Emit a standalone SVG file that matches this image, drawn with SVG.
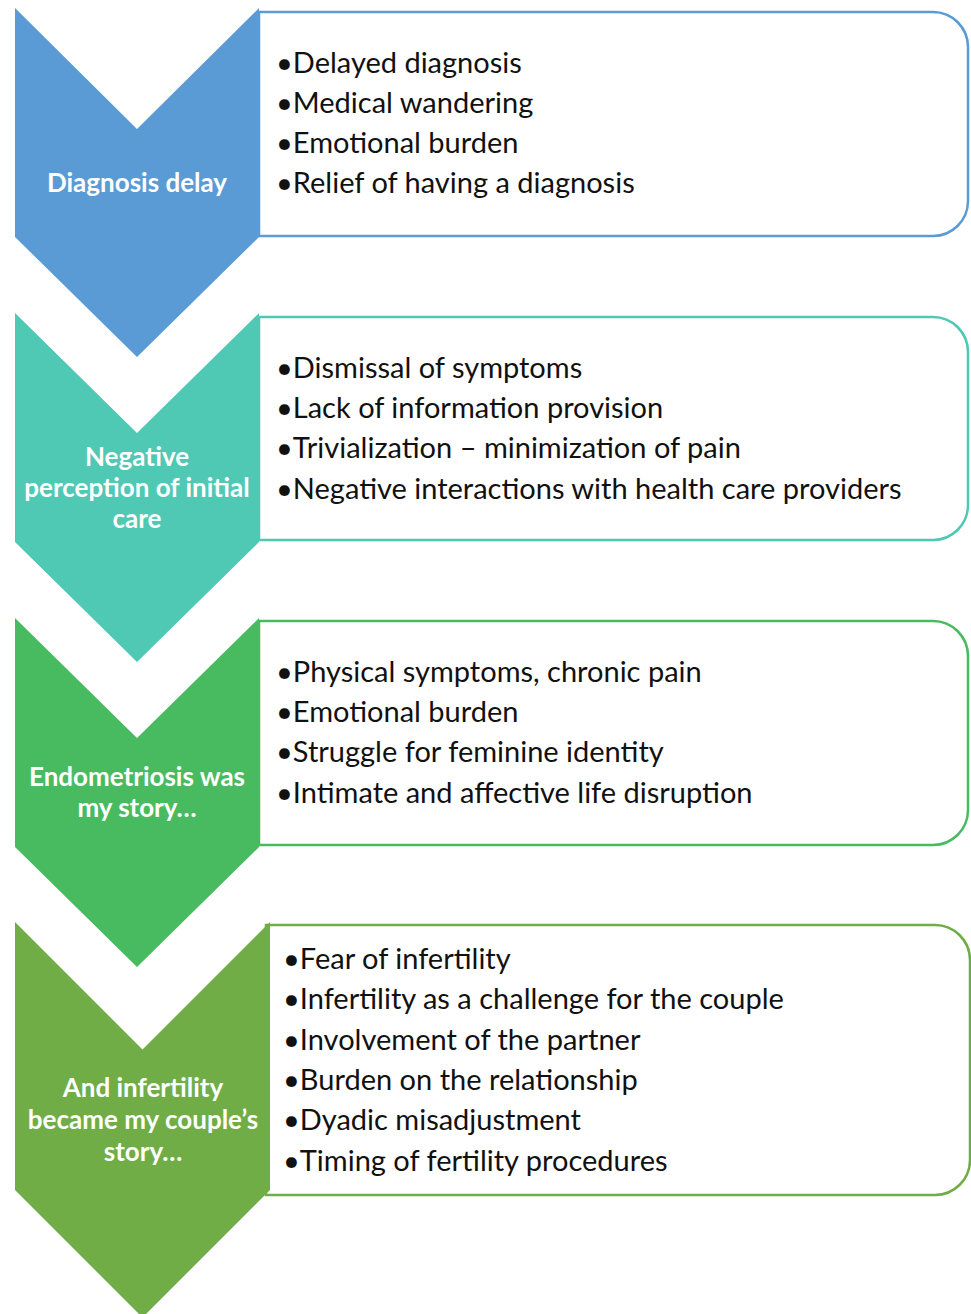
<svg xmlns="http://www.w3.org/2000/svg" width="971" height="1314" viewBox="0 0 971 1314">
<style>
.box{fill:#fff;stroke-width:2.5}
.item{font-family:Lato,"Liberation Sans",sans-serif;font-size:29px;fill:#111}
.lbl{font-family:Lato,"Liberation Sans",sans-serif;font-size:26px;font-weight:bold;fill:#fff;text-anchor:middle}
</style>
<rect width="971" height="1314" fill="#fff"/>
<g id="connectors"></g>
<g id="stage1">
<path class="box" stroke="#5b9bd5" d="M259,12 H933 A35,35 0 0 1 968,47 V201 A35,35 0 0 1 933,236 H259 Z"/>
<path fill="#5b9bd5" d="M15,8 L137,129 L259,8 V237 L137,357 L15,237 Z"/>
<text class="lbl" x="137" y="192">Diagnosis delay</text>
<text class="item" x="276" y="73">•Delayed diagnosis</text>
<text class="item" x="276" y="113">•Medical wandering</text>
<text class="item" x="276" y="153">•Emotional burden</text>
<text class="item" x="276" y="193">•Relief of having a diagnosis</text>
</g>
<g id="stage2">
<path class="box" stroke="#4fc8b4" d="M259,317 H933 A35,35 0 0 1 968,352 V505 A35,35 0 0 1 933,540 H259 Z"/>
<path fill="#4fc8b4" d="M15,313 L137,433 L259,313 V542 L137,662 L15,542 Z"/>
<text class="lbl" x="137" y="466">Negative</text>
<text class="lbl" x="137" y="497">perception of initial</text>
<text class="lbl" x="137" y="528">care</text>
<text class="item" x="276" y="378">•Dismissal of symptoms</text>
<text class="item" x="276" y="418">•Lack of information provision</text>
<text class="item" x="276" y="458">•Trivialization – minimization of pain</text>
<text class="item" x="276" y="499">•Negative interactions with health care providers</text>
</g>
<g id="stage3">
<path class="box" stroke="#48bb61" d="M259,621 H933 A35,35 0 0 1 968,656 V810 A35,35 0 0 1 933,845 H259 Z"/>
<path fill="#48bb61" d="M15,618 L137,738 L259,618 V847 L137,967 L15,847 Z"/>
<text class="lbl" x="137" y="786">Endometriosis was</text>
<text class="lbl" x="137" y="817">my story…</text>
<text class="item" x="276" y="682">•Physical symptoms, chronic pain</text>
<text class="item" x="276" y="722">•Emotional burden</text>
<text class="item" x="276" y="762">•Struggle for feminine identity</text>
<text class="item" x="276" y="803">•Intimate and affective life disruption</text>
</g>
<g id="stage4">
<path class="box" stroke="#70ad47" d="M266,925 H935 A35,35 0 0 1 970,960 V1160 A35,35 0 0 1 935,1195 H266 Z"/>
<path fill="#70ad47" d="M15,922 L142.5,1049.5 L270,922 V1190 L142.5,1317.5 L15,1190 Z"/>
<text class="lbl" x="143" y="1097">And infertility</text>
<text class="lbl" x="143" y="1129">became my couple’s</text>
<text class="lbl" x="143" y="1161">story…</text>
<text class="item" x="283" y="969">•Fear of infertility</text>
<text class="item" x="283" y="1009">•Infertility as a challenge for the couple</text>
<text class="item" x="283" y="1050">•Involvement of the partner</text>
<text class="item" x="283" y="1090">•Burden on the relationship</text>
<text class="item" x="283" y="1130">•Dyadic misadjustment</text>
<text class="item" x="283" y="1171">•Timing of fertility procedures</text>
</g>
</svg>
